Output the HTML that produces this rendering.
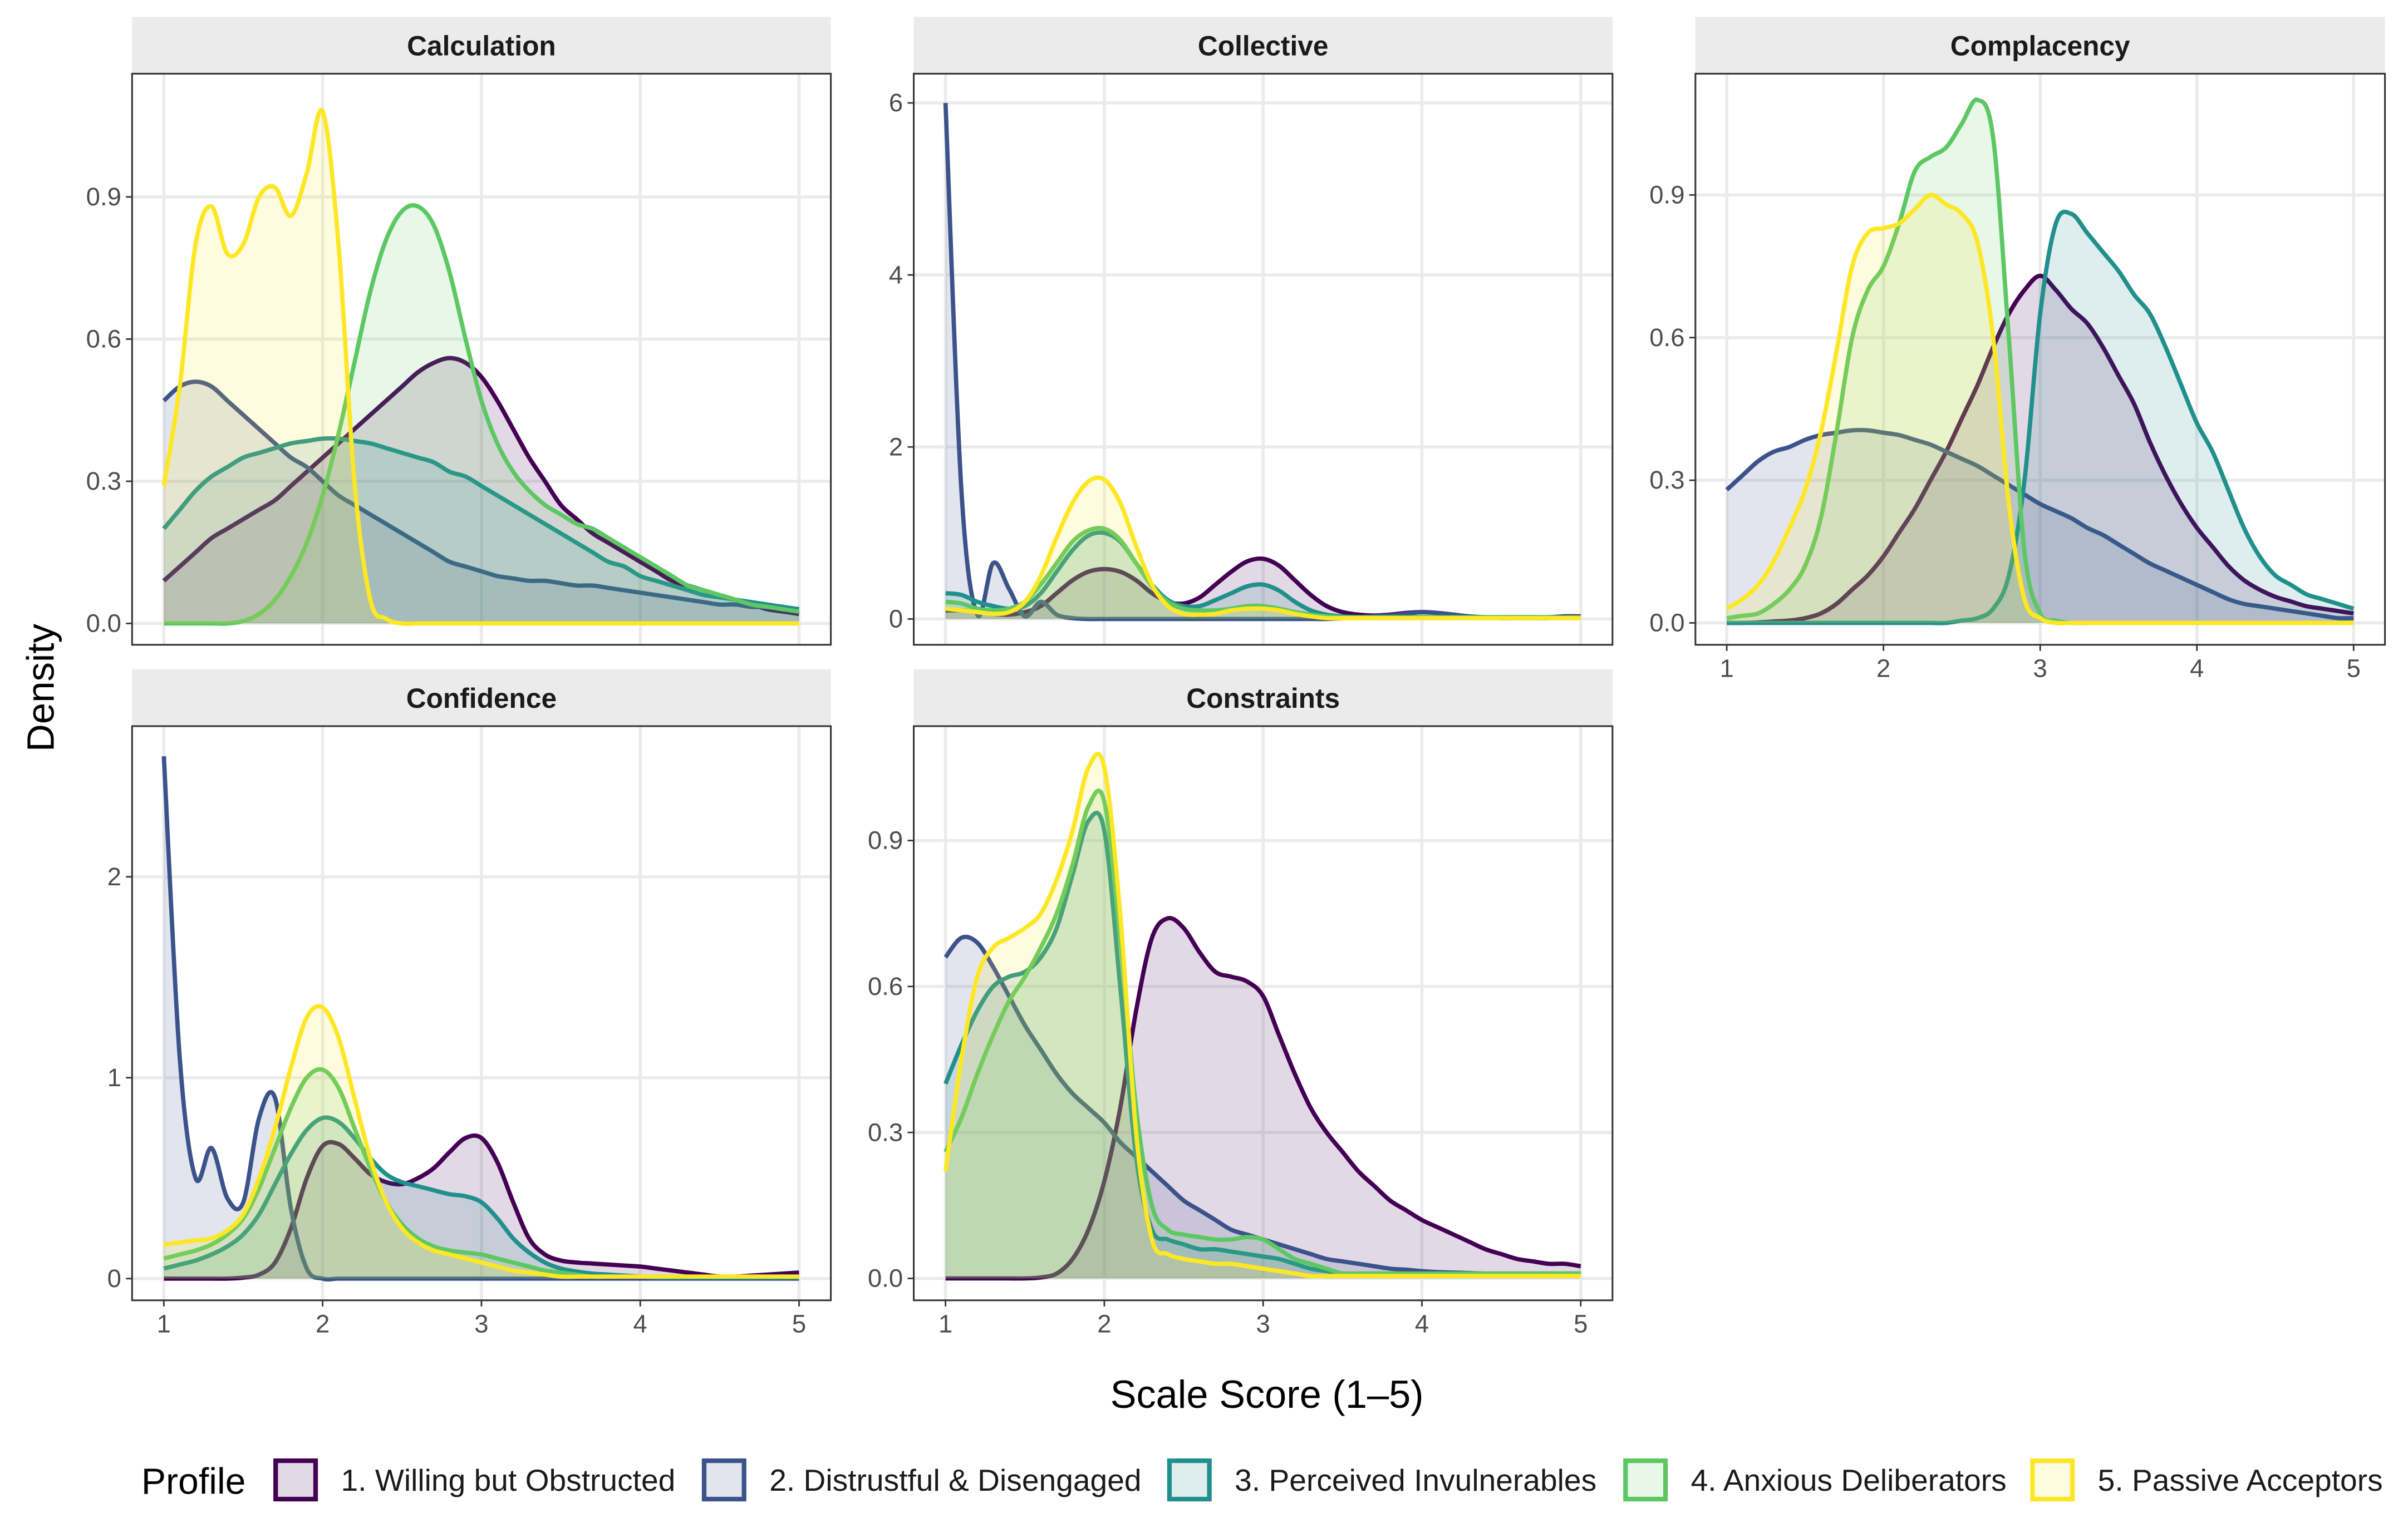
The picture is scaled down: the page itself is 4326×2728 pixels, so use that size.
<!DOCTYPE html>
<html><head><meta charset="utf-8">
<style>
html,body{margin:0;padding:0;background:#fff;}
svg{display:block;font-family:"Liberation Sans",Arial,sans-serif;}
</style></head>
<body>
<svg id="chart" width="4326" height="2728" viewBox="0 0 1568 988.8" xmlns="http://www.w3.org/2000/svg">
<g id="panels"></g>
<text x="825" y="917" font-size="25.5" text-anchor="middle" fill="#000">Scale Score (1–5)</text>
<text x="35" y="448" font-size="25" text-anchor="middle" fill="#000" transform="rotate(-90 35 448)">Density</text>
<g id="legend"></g>
</svg>
<script>
const xs = [1.0,1.1,1.2,1.3,1.4,1.5,1.6,1.7,1.8,1.9,2.0,2.1,2.2,2.3,2.4,2.5,2.6,2.7,2.8,2.9,3.0,3.1,3.2,3.3,3.4,3.5,3.6,3.7,3.8,3.9,4.0,4.1,4.2,4.3,4.4,4.5,4.6,4.7,4.8,4.9,5.0];
const profiles = ["1. Willing but Obstructed","2. Distrustful & Disengaged","3. Perceived Invulnerables","4. Anxious Deliberators","5. Passive Acceptors"];
const colors = ["#440154","#3B528B","#21908C","#5DC863","#FDE725"];
const facetNames = ["Calculation","Collective","Complacency","Confidence","Constraints"];
const xTicks = [1,2,3,4,5];
const yTicksCalc = [0,0.3,0.6,0.9];
const yTicksColl = [0,2,4,6];
const yTicksComp = [0,0.3,0.6,0.9];
const yTicksConf = [0,1,2];
const yTicksCons = [0,0.3,0.6,0.9];

const calc1=[.09,.12,.15,.18,.2,.22,.24,.26,.29,.32,.35,.38,.41,.44,.47,.5,.53,.55,.56,.55,.52,.47,.41,.35,.3,.25,.22,.19,.17,.15,.13,.11,.09,.08,.07,.06,.05,.04,.03,.025,.02];
const calc2=[.47,.5,.51,.5,.47,.44,.41,.38,.35,.33,.3,.27,.25,.23,.21,.19,.17,.15,.13,.12,.11,.1,.095,.09,.09,.085,.08,.08,.075,.07,.065,.06,.055,.05,.045,.04,.04,.035,.035,.03,.03];
const calc3=[.2,.24,.28,.31,.33,.35,.36,.37,.38,.385,.39,.39,.385,.38,.37,.36,.35,.34,.32,.31,.29,.27,.25,.23,.21,.19,.17,.15,.13,.12,.1,.09,.08,.07,.06,.055,.05,.045,.04,.035,.03];
const calc4=[0,0,0,0,0,.005,.02,.05,.1,.17,.27,.4,.55,.7,.81,.87,.88,.84,.74,.6,.47,.38,.32,.28,.25,.23,.21,.2,.18,.16,.14,.12,.1,.08,.07,.06,.05,.04,.035,.03,.025];
const calc5=[.29,.5,.8,.88,.78,.8,.9,.92,.86,.95,1.08,.8,.3,.05,.01,0,0,0,0,0,0,0,0,0,0,0,0,0,0,0,0,0,0,0,0,0,0,0,0,0,0];

const coll1=[.1,.1,.08,.06,.05,.08,.15,.3,.45,.55,.58,.55,.45,.3,.2,.18,.25,.4,.55,.67,.7,.62,.45,.28,.15,.08,.05,.04,.05,.07,.08,.07,.05,.03,.02,.02,.02,.02,.02,.03,.03];
const coll2=[6.0,1.5,.05,.65,.35,.03,.2,.05,.01,0,0,0,0,0,0,0,0,0,0,0,0,0,0,0,0,.01,.02,.03,.04,.06,.08,.07,.05,.03,.02,.01,.01,.01,.01,.02,.02];
const coll3=[.3,.28,.2,.15,.12,.15,.3,.55,.8,.97,1.0,.9,.65,.4,.22,.15,.15,.22,.3,.38,.4,.33,.2,.1,.05,.03,.02,.02,.02,.02,.02,.02,.02,.02,.02,.02,.02,.02,.02,.02,.02];
const coll4=[.2,.18,.12,.1,.12,.2,.4,.65,.9,1.03,1.05,.92,.65,.38,.2,.12,.1,.1,.12,.15,.15,.12,.08,.05,.03,.02,.02,.02,.02,.02,.02,.02,.02,.02,.02,.02,.02,.02,.02,.02,.02];
const coll5=[.12,.1,.08,.06,.08,.2,.5,.95,1.35,1.6,1.62,1.35,.85,.4,.15,.06,.05,.06,.1,.12,.12,.1,.06,.03,.01,.01,.01,.01,.01,.01,.01,.01,.01,.01,.01,.01,.01,.01,.01,.01,.01];

const comp1=[0,0,.001,.003,.005,.01,.02,.04,.07,.1,.14,.19,.24,.3,.36,.43,.5,.58,.65,.7,.73,.7,.66,.63,.58,.52,.46,.38,.31,.25,.2,.16,.12,.09,.07,.055,.045,.035,.03,.025,.02];
const comp2=[.28,.31,.34,.36,.37,.385,.395,.4,.405,.405,.4,.395,.385,.375,.36,.345,.33,.31,.29,.27,.25,.235,.22,.2,.185,.165,.145,.125,.11,.095,.08,.065,.05,.04,.035,.03,.025,.02,.015,.01,.01];
const comp3=[0,0,0,0,0,0,0,0,0,0,0,0,0,0,0,.005,.01,.03,.1,.3,.65,.84,.86,.82,.78,.74,.69,.65,.58,.5,.42,.36,.28,.2,.14,.1,.08,.06,.05,.04,.03];
const comp4=[.01,.015,.02,.04,.07,.12,.22,.4,.6,.7,.75,.84,.95,.98,1.0,1.05,1.1,1.02,.6,.15,.02,.005,0,0,0,0,0,0,0,0,0,0,0,0,0,0,0,0,0,0,0];
const comp5=[.03,.05,.08,.13,.2,.28,.4,.57,.75,.82,.83,.84,.87,.9,.88,.86,.8,.6,.25,.05,.01,0,0,0,0,0,0,0,0,0,0,0,0,0,0,0,0,0,0,0,0];

const conf1=[0,0,0,0,0,.005,.02,.08,.25,.5,.66,.67,.6,.52,.48,.47,.5,.55,.63,.7,.7,.58,.38,.2,.12,.09,.08,.075,.07,.065,.06,.05,.04,.03,.02,.01,.01,.015,.02,.025,.03];
const conf2=[2.6,1.1,.5,.65,.4,.38,.8,.9,.35,.05,0,0,0,0,0,0,0,0,0,0,0,0,0,0,0,0,0,0,0,0,0,0,0,0,0,0,0,0,0,0,0];
const conf3=[.05,.07,.09,.12,.16,.22,.32,.47,.62,.74,.8,.78,.7,.6,.52,.48,.46,.44,.42,.41,.38,.3,.2,.13,.08,.05,.035,.025,.02,.015,.01,.005,.005,.005,.005,.005,.005,.005,.005,.005,.005];
const conf4=[.1,.12,.14,.17,.22,.3,.45,.65,.85,1.0,1.04,.95,.75,.55,.38,.27,.2,.16,.14,.13,.12,.1,.08,.06,.04,.03,.02,.01,.01,.01,.01,.01,.01,.01,.01,.01,.01,.01,.01,.01,.01];
const conf5=[.17,.18,.19,.2,.24,.32,.5,.75,1.05,1.3,1.35,1.2,.9,.6,.38,.25,.18,.14,.12,.1,.08,.06,.04,.03,.02,.01,.01,.01,.01,.01,.01,.01,.01,.01,.01,.01,.01,.01,.01,.01,.01];

const cons1=[0,0,0,0,0,0,.002,.01,.04,.1,.2,.35,.55,.7,.74,.72,.67,.63,.62,.61,.58,.5,.42,.35,.3,.26,.22,.19,.16,.14,.12,.105,.09,.075,.06,.05,.04,.035,.03,.03,.025];
const cons2=[.66,.7,.69,.64,.58,.52,.47,.42,.38,.35,.32,.28,.25,.22,.19,.16,.14,.12,.1,.09,.08,.07,.06,.05,.04,.035,.03,.025,.02,.018,.015,.013,.012,.011,.01,.01,.01,.01,.01,.01,.01];
const cons3=[.4,.48,.55,.6,.62,.63,.66,.72,.83,.94,.92,.6,.25,.1,.08,.07,.06,.06,.055,.05,.045,.04,.03,.02,.015,.01,.01,.01,.01,.01,.01,.01,.01,.01,.01,.01,.01,.01,.01,.01,.01];
const cons4=[.26,.33,.42,.5,.57,.62,.68,.75,.85,.97,.98,.7,.35,.15,.1,.09,.085,.08,.08,.085,.08,.06,.04,.03,.02,.01,.01,.01,.01,.01,.01,.01,.01,.01,.01,.01,.01,.01,.01,.01,.01];
const cons5=[.22,.45,.62,.68,.7,.72,.75,.82,.92,1.05,1.05,.75,.3,.08,.05,.04,.035,.03,.03,.025,.02,.015,.01,.005,.005,.005,.005,.005,.005,.005,.005,.005,.005,.005,.005,.005,.005,.005,.005,.005,.005];

const NS="http://www.w3.org/2000/svg";
function mk(tag,attrs,parent){const e=document.createElementNS(NS,tag);for(const k in attrs)e.setAttribute(k,attrs[k]);parent.appendChild(e);return e;}
const panelsG=document.getElementById('panels');

const facets=[
 {name:facetNames[0],series:[calc1,calc2,calc3,calc4,calc5],yt:yTicksCalc,x0:86,x1:541,y0:48,y1:420,ymin:-0.045,ymax:1.16,xlab:false,fmt:1},
 {name:facetNames[1],series:[coll1,coll2,coll3,coll4,coll5],yt:yTicksColl,x0:595,x1:1050,y0:48,y1:420,ymin:-0.3,ymax:6.34,xlab:false,fmt:0},
 {name:facetNames[2],series:[comp1,comp2,comp3,comp4,comp5],yt:yTicksComp,x0:1104,x1:1553,y0:48,y1:420,ymin:-0.046,ymax:1.155,xlab:true,fmt:1},
 {name:facetNames[3],series:[conf1,conf2,conf3,conf4,conf5],yt:yTicksConf,x0:86,x1:541,y0:473,y1:847,ymin:-0.108,ymax:2.75,xlab:true,fmt:0},
 {name:facetNames[4],series:[cons1,cons2,cons3,cons4,cons5],yt:yTicksCons,x0:595,x1:1050,y0:473,y1:847,ymin:-0.045,ymax:1.135,xlab:true,fmt:1}
];

function smoothPath(pts){
 let d=`M${pts[0][0]},${pts[0][1]}`;
 for(let i=0;i<pts.length-1;i++){
  const p0=pts[Math.max(i-1,0)],p1=pts[i],p2=pts[i+1],p3=pts[Math.min(i+2,pts.length-1)];
  const c1x=p1[0]+(p2[0]-p0[0])/6,c1y=p1[1]+(p2[1]-p0[1])/6;
  const c2x=p2[0]-(p3[0]-p1[0])/6,c2y=p2[1]-(p3[1]-p1[1])/6;
  d+=` C${c1x.toFixed(2)},${c1y.toFixed(2)} ${c2x.toFixed(2)},${c2y.toFixed(2)} ${p2[0].toFixed(2)},${p2[1].toFixed(2)}`;
 }
 return d;
}

facets.forEach((f)=>{
 const g=mk('g',{},panelsG);
 
 
 const pw=f.x1-f.x0;
 const xScale=v=>f.x0+pw*((v-0.8)/4.4);
 const yScale=v=>f.y1-(f.y1-f.y0)*((v-f.ymin)/(f.ymax-f.ymin));
 const strip=mk('rect',{x:f.x0,y:f.y0-37,width:pw,height:37,fill:'#ebebeb'},g);
 
 
 const st=mk('text',{x:(f.x0+f.x1)/2,y:f.y0-12,'font-size':18,'font-weight':'bold','text-anchor':'middle',fill:'#1a1a1a'},g);
 st.textContent=f.name;
 
 
 f.yt.forEach(v=>{
  const ln=mk('line',{x1:f.x0,x2:f.x1,y1:yScale(v),y2:yScale(v),stroke:'#ebebeb','stroke-width':2},g);
  
  
  const tk=mk('line',{x1:f.x0-4,x2:f.x0,y1:yScale(v),y2:yScale(v),stroke:'#333','stroke-width':1},g);
  
  
  const t=mk('text',{x:f.x0-7,y:yScale(v)+5.5,'font-size':16.5,'text-anchor':'end',fill:'#4d4d4d'},g);
  t.textContent=v.toFixed(f.fmt);
  
  
 });
 xTicks.forEach(v=>{
  const ln=mk('line',{x1:xScale(v),x2:xScale(v),y1:f.y0,y2:f.y1,stroke:'#ebebeb','stroke-width':2},g);
  
  
  if(f.xlab){
   const tk=mk('line',{x1:xScale(v),x2:xScale(v),y1:f.y1,y2:f.y1+4,stroke:'#333','stroke-width':1},g);
   
   
   const t=mk('text',{x:xScale(v),y:f.y1+21,'font-size':16.5,'text-anchor':'middle',fill:'#4d4d4d'},g);
   t.textContent=String(v);
   
   
  }
 });
 f.series.forEach((arr,si)=>{
  const pts=xs.map((x,i)=>[xScale(x),yScale(arr[i])]);
  const line=smoothPath(pts);
  const area=line+` L${xScale(xs[xs.length-1])},${yScale(0)} L${xScale(xs[0])},${yScale(0)} Z`;
  const a=mk('path',{d:area,fill:colors[si],'fill-opacity':0.15,stroke:'none'},g);
  
  
  const l=mk('path',{d:line,fill:'none',stroke:colors[si],'stroke-width':2.8,'stroke-linejoin':'round'},g);
  
  
 });
 const border=mk('rect',{x:f.x0,y:f.y0,width:pw,height:f.y1-f.y0,fill:'none',stroke:'#333','stroke-width':1.1},g);
 
 
});

const lg=document.getElementById('legend');
const lt=mk('text',{x:92,y:973,'font-size':24,fill:'#000'},lg);
lt.textContent='Profile';


const keyX=[178,457,760,1057,1322];
profiles.forEach((p,i)=>{
 const eg=mk('g',{},lg);
 
 
 mk('rect',{x:keyX[i]+1.5,y:951.5,width:26,height:25,fill:'#fff',stroke:'none'},eg);
 const r=mk('rect',{x:keyX[i]+1.5,y:951.5,width:26,height:25,fill:colors[i],'fill-opacity':0.15,stroke:colors[i],'stroke-width':3},eg);
 
 
 const t=mk('text',{x:keyX[i]+44,y:971,'font-size':20,fill:'#1a1a1a'},eg);
 t.textContent=p;
 
 
});
</script>
</body></html>
